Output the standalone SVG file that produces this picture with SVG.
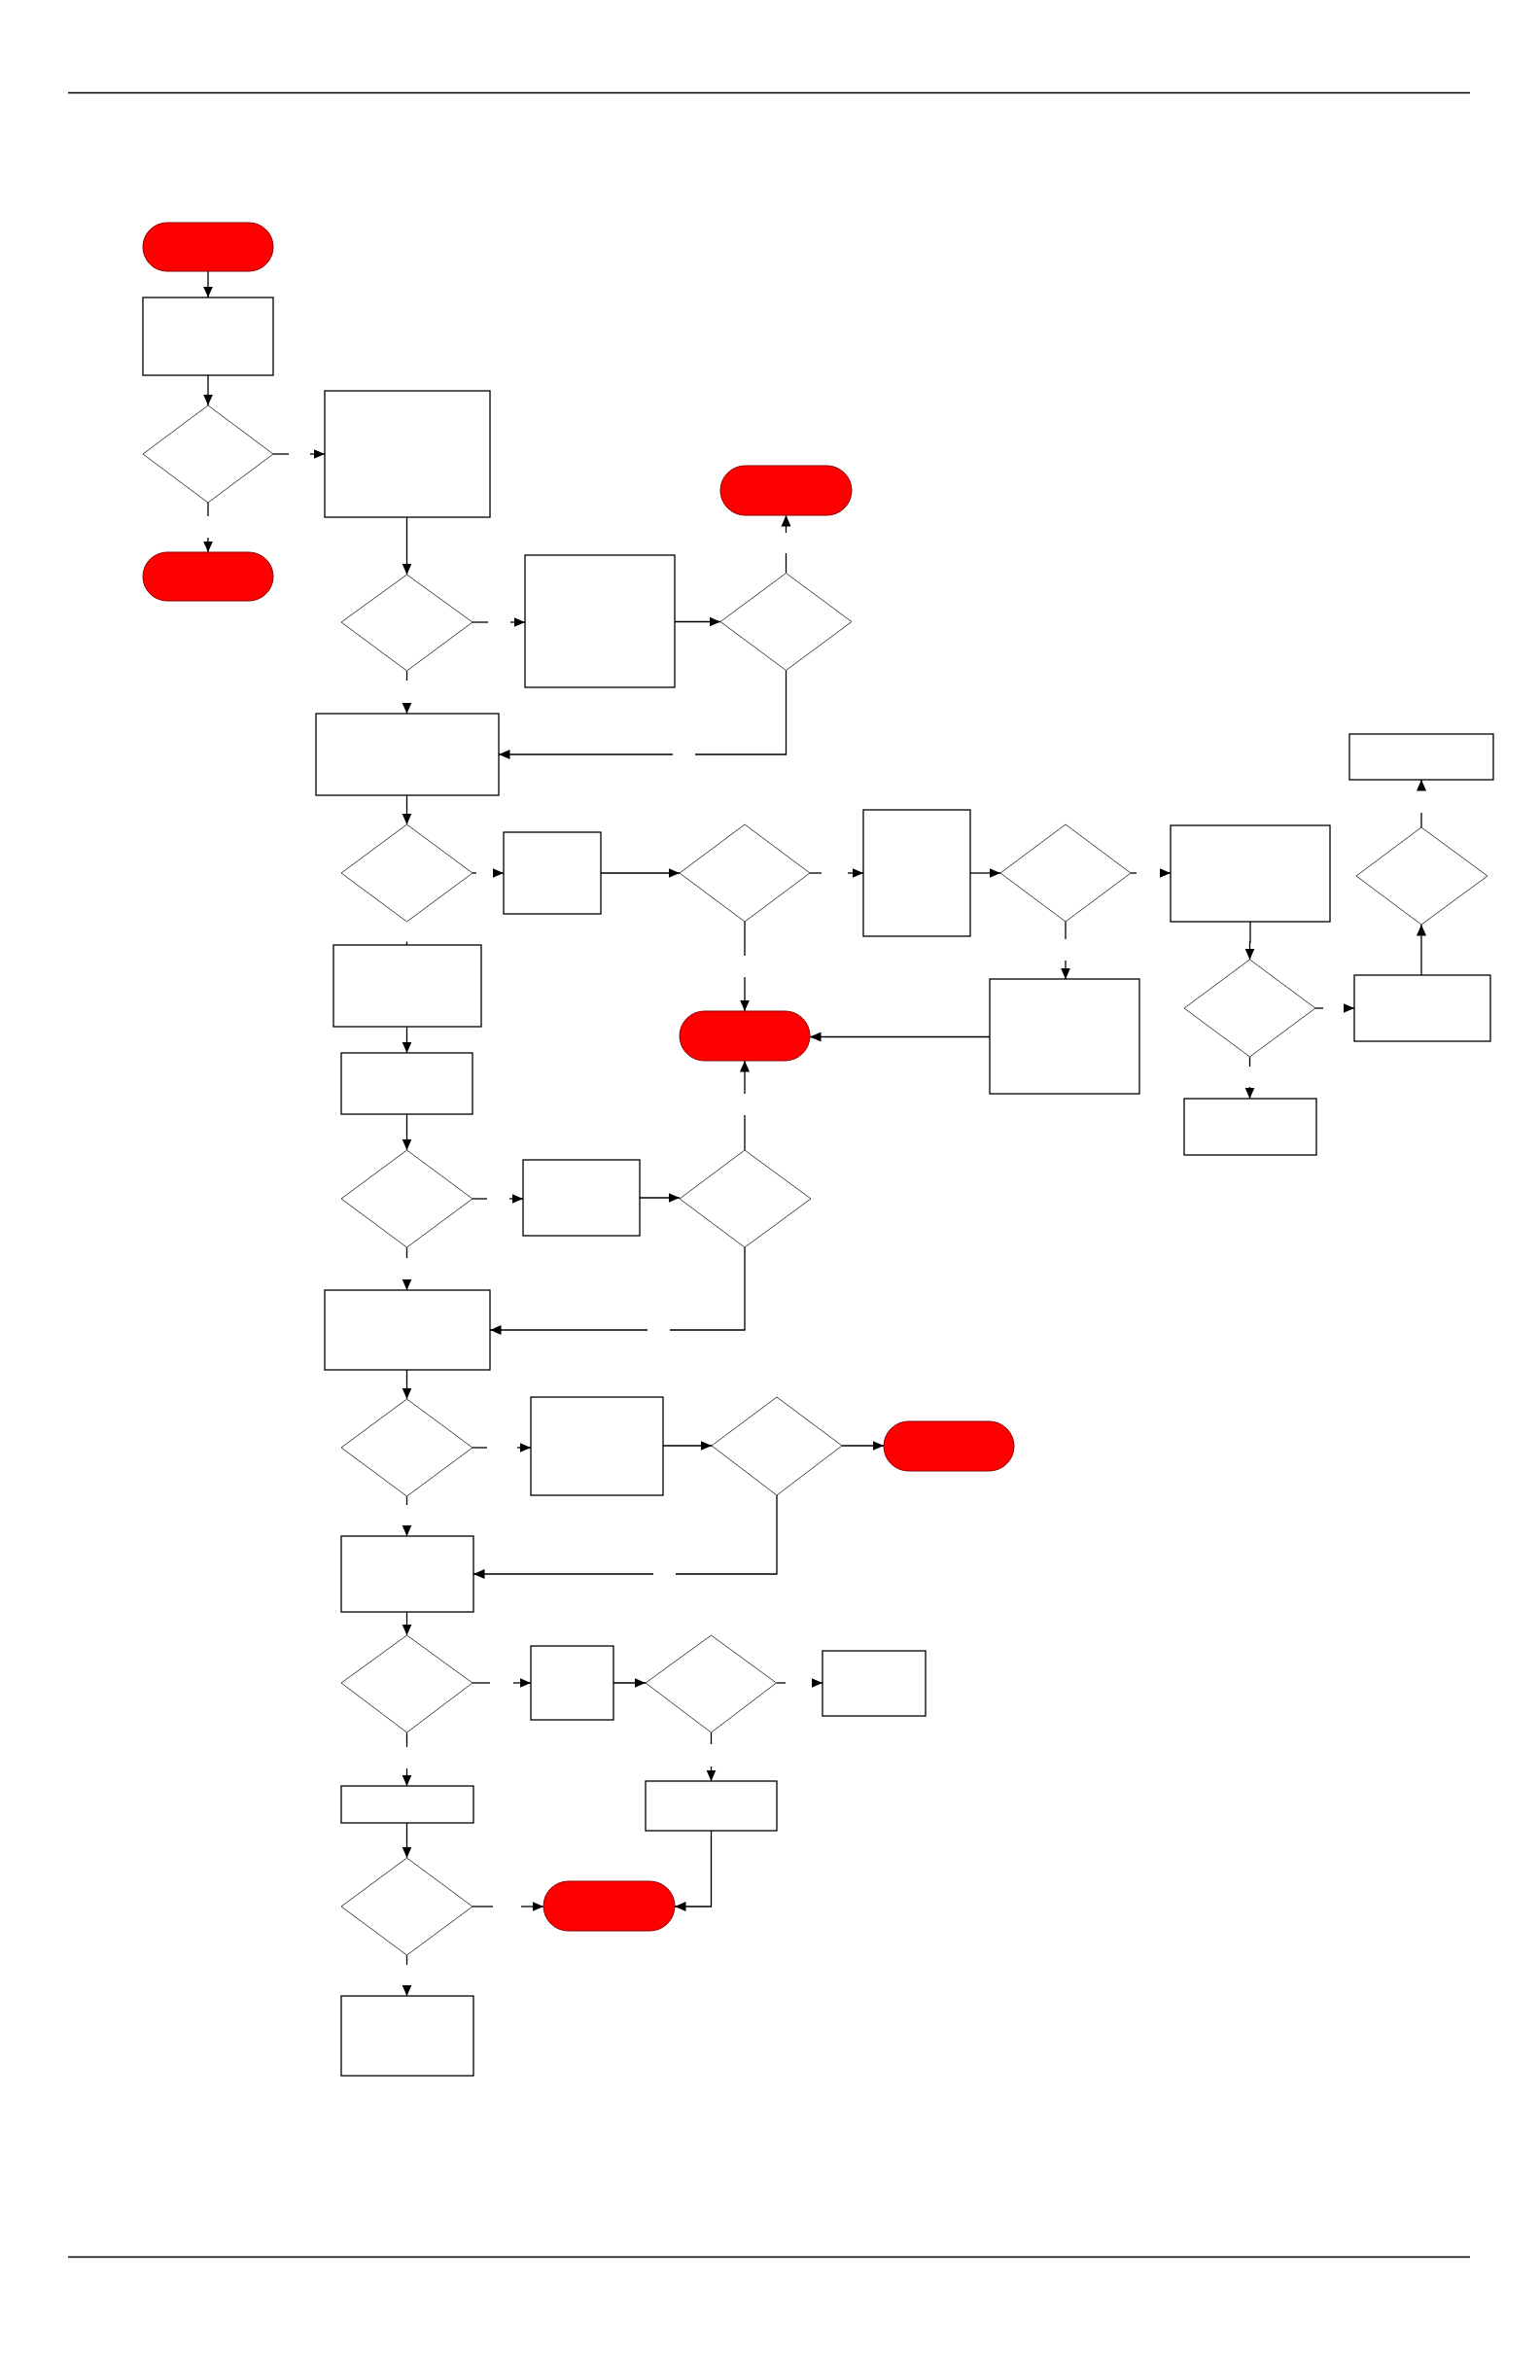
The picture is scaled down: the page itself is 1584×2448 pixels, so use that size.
<svg xmlns="http://www.w3.org/2000/svg" width="1584" height="2448" viewBox="0 0 1584 2448">
<style>
.bg{fill:#ffffff}
.rule{stroke:#000;stroke-width:1.4;fill:none}
.box{fill:#fff;stroke:#000;stroke-width:1.3}
.dia{fill:#fff;stroke:#444;stroke-width:1}
.term{fill:#ff0000;stroke:#8a0000;stroke-width:1}
.c{fill:none;stroke:#000;stroke-width:1.3}
.a{fill:none;stroke:#000;stroke-width:1.3;marker-end:url(#ah)}
</style>
<defs>
<marker id="ah" markerUnits="userSpaceOnUse" markerWidth="12" markerHeight="11" viewBox="0 0 12 11" refX="11.5" refY="5.5" orient="auto">
<path d="M0,0.5 L11.5,5.5 L0,10.5 z" fill="#000"/>
</marker>
</defs>
<rect class="bg" x="0" y="0" width="1584" height="2448"/>
<g id="page-rules">
<line class="rule" x1="70" y1="95.5" x2="1512" y2="95.5"/>
<line class="rule" x1="70" y1="2321.5" x2="1512" y2="2321.5"/>
</g>
<g id="connectors">
<line class="a" x1="214" y1="279" x2="214" y2="306"/>
<line class="a" x1="214" y1="386" x2="214" y2="417"/>
<line class="c" x1="281" y1="467" x2="297" y2="467"/>
<line class="a" x1="319" y1="467" x2="334" y2="467"/>
<line class="c" x1="214" y1="517" x2="214" y2="531"/>
<line class="a" x1="214" y1="553" x2="214" y2="568"/>
<line class="a" x1="418.5" y1="532" x2="418.5" y2="591"/>
<line class="c" x1="486" y1="640" x2="502" y2="640"/>
<line class="a" x1="525" y1="640" x2="540" y2="640"/>
<line class="a" x1="694" y1="639.5" x2="741" y2="639.5"/>
<line class="c" x1="808.5" y1="589.5" x2="808.5" y2="569"/>
<line class="a" x1="808.5" y1="548" x2="808.5" y2="530"/>
<polyline class="c" points="808.5,689.5 808.5,776 715,776"/>
<line class="a" x1="692" y1="776" x2="513" y2="776"/>
<line class="c" x1="418.5" y1="690" x2="418.5" y2="700"/>
<line class="a" x1="418.5" y1="724" x2="418.5" y2="734"/>
<line class="a" x1="418.5" y1="818" x2="418.5" y2="848"/>
<line class="c" x1="486" y1="898" x2="490" y2="898"/>
<line class="a" x1="510" y1="898" x2="518" y2="898"/>
<line class="a" x1="618" y1="898" x2="699" y2="898"/>
<line class="c" x1="833" y1="898" x2="845" y2="898"/>
<line class="a" x1="872" y1="898" x2="888" y2="898"/>
<line class="a" x1="998" y1="898" x2="1029" y2="898"/>
<line class="c" x1="1163" y1="898" x2="1169" y2="898"/>
<line class="a" x1="1195" y1="898" x2="1204" y2="898"/>
<line class="c" x1="1096" y1="948" x2="1096" y2="966"/>
<line class="a" x1="1096" y1="988" x2="1096" y2="1007"/>
<line class="a" x1="1018" y1="1066.5" x2="833" y2="1066.5"/>
<line class="c" x1="766" y1="948" x2="766" y2="983"/>
<line class="a" x1="766" y1="1005" x2="766" y2="1040"/>
<line class="c" x1="766" y1="1183" x2="766" y2="1147"/>
<line class="a" x1="766" y1="1125" x2="766" y2="1091"/>
<line class="c" x1="418.5" y1="968.5" x2="418.5" y2="972"/>
<line class="a" x1="418.5" y1="1056" x2="418.5" y2="1083"/>
<line class="a" x1="418.5" y1="1146" x2="418.5" y2="1183"/>
<line class="c" x1="486" y1="1233" x2="501" y2="1233"/>
<line class="a" x1="524" y1="1233" x2="538" y2="1233"/>
<line class="a" x1="658" y1="1232" x2="699" y2="1232"/>
<polyline class="c" points="766,1283 766,1368 689,1368"/>
<line class="a" x1="666" y1="1368" x2="504" y2="1368"/>
<line class="c" x1="418.5" y1="1283" x2="418.5" y2="1294"/>
<line class="a" x1="418.5" y1="1316" x2="418.5" y2="1327"/>
<line class="a" x1="418.5" y1="1409" x2="418.5" y2="1439"/>
<line class="c" x1="486" y1="1489" x2="501" y2="1489"/>
<line class="a" x1="532" y1="1489" x2="546" y2="1489"/>
<line class="a" x1="682" y1="1487" x2="732" y2="1487"/>
<line class="a" x1="866" y1="1487" x2="909" y2="1487"/>
<polyline class="c" points="799,1538 799,1619 695,1619"/>
<line class="a" x1="672" y1="1619" x2="487" y2="1619"/>
<line class="c" x1="418.5" y1="1539" x2="418.5" y2="1548"/>
<line class="a" x1="418.5" y1="1571" x2="418.5" y2="1580"/>
<line class="a" x1="418.5" y1="1658" x2="418.5" y2="1682"/>
<line class="c" x1="486" y1="1731" x2="504" y2="1731"/>
<line class="a" x1="528" y1="1731" x2="546" y2="1731"/>
<line class="a" x1="631" y1="1731" x2="664" y2="1731"/>
<line class="c" x1="798.5" y1="1731" x2="808" y2="1731"/>
<line class="a" x1="836" y1="1731" x2="846" y2="1731"/>
<line class="c" x1="731.5" y1="1782" x2="731.5" y2="1794"/>
<line class="a" x1="731.5" y1="1817" x2="731.5" y2="1832"/>
<polyline class="a" points="731.5,1883 731.5,1961 694,1961"/>
<line class="c" x1="418.5" y1="1782" x2="418.5" y2="1797"/>
<line class="a" x1="418.5" y1="1819" x2="418.5" y2="1837"/>
<line class="a" x1="418.5" y1="1875" x2="418.5" y2="1911"/>
<line class="c" x1="486" y1="1961" x2="507" y2="1961"/>
<line class="a" x1="536" y1="1961" x2="559" y2="1961"/>
<line class="c" x1="418.5" y1="2011" x2="418.5" y2="2021"/>
<line class="a" x1="418.5" y1="2043" x2="418.5" y2="2053"/>
<polyline class="a" points="1286,948 1286,969 1285.5,969 1285.5,987"/>
<line class="c" x1="1353" y1="1037" x2="1361" y2="1037"/>
<line class="a" x1="1384" y1="1037" x2="1393" y2="1037"/>
<line class="a" x1="1462" y1="1003" x2="1462" y2="951"/>
<line class="c" x1="1462" y1="851" x2="1462" y2="836"/>
<line class="a" x1="1462" y1="813" x2="1462" y2="802"/>
<line class="c" x1="1285.5" y1="1087" x2="1285.5" y2="1097"/>
<line class="a" x1="1285.5" y1="1118" x2="1285.5" y2="1130"/>
</g>
<g id="T1"><rect class="term" x="147" y="229" width="134" height="50" rx="25"/></g>
<g id="B1"><rect class="box" x="147" y="306" width="134" height="80"/></g>
<g id="D1"><polygon class="dia" points="214,417 281,467 214,517 147,467"/></g>
<g id="T2"><rect class="term" x="147" y="568" width="134" height="50" rx="25"/></g>
<g id="B2"><rect class="box" x="334" y="402" width="170" height="130"/></g>
<g id="D2"><polygon class="dia" points="418.5,591 486,640 418.5,690 351,640"/></g>
<g id="B3"><rect class="box" x="540" y="571" width="154" height="136"/></g>
<g id="D2b"><polygon class="dia" points="808.5,589.5 876,639.5 808.5,689.5 741,639.5"/></g>
<g id="T3"><rect class="term" x="741" y="479" width="135" height="51" rx="25.5"/></g>
<g id="B4"><rect class="box" x="325" y="734" width="188" height="84"/></g>
<g id="D3"><polygon class="dia" points="418.5,848 486,898 418.5,948 351,898"/></g>
<g id="B5"><rect class="box" x="518" y="856" width="100" height="84"/></g>
<g id="D4"><polygon class="dia" points="766,848 833,898 766,948 699,898"/></g>
<g id="B6"><rect class="box" x="888" y="833" width="110" height="130"/></g>
<g id="D5"><polygon class="dia" points="1096,848 1163,898 1096,948 1029,898"/></g>
<g id="B7"><rect class="box" x="1204" y="849" width="164" height="99"/></g>
<g id="D6"><polygon class="dia" points="1285.5,987 1353,1037 1285.5,1087 1218,1037"/></g>
<g id="B11"><rect class="box" x="1393" y="1003" width="140" height="68"/></g>
<g id="D7"><polygon class="dia" points="1462,851 1530,901 1462,951 1395,901"/></g>
<g id="B12"><rect class="box" x="1388" y="755" width="148" height="47"/></g>
<g id="B13"><rect class="box" x="1218" y="1130" width="136" height="58"/></g>
<g id="B8"><rect class="box" x="1018" y="1007" width="154" height="118"/></g>
<g id="T4"><rect class="term" x="699" y="1040" width="134" height="51" rx="25.5"/></g>
<g id="B9"><rect class="box" x="343" y="972" width="152" height="84"/></g>
<g id="B10"><rect class="box" x="351" y="1083" width="135" height="63"/></g>
<g id="D8"><polygon class="dia" points="418.5,1183 486,1233 418.5,1283 351,1233"/></g>
<g id="B14"><rect class="box" x="538" y="1193" width="120" height="78"/></g>
<g id="D9"><polygon class="dia" points="766,1183 834,1233 766,1283 699,1233"/></g>
<g id="B15"><rect class="box" x="334" y="1327" width="170" height="82"/></g>
<g id="D10"><polygon class="dia" points="418.5,1439 486,1489 418.5,1539 351,1489"/></g>
<g id="B16"><rect class="box" x="546" y="1437" width="136" height="101"/></g>
<g id="D11"><polygon class="dia" points="799,1437 866,1487 799,1538 732,1487"/></g>
<g id="T5"><rect class="term" x="909" y="1462" width="134" height="51" rx="25.5"/></g>
<g id="B17"><rect class="box" x="351" y="1580" width="136" height="78"/></g>
<g id="D12"><polygon class="dia" points="418.5,1682 486,1731 418.5,1782 351,1731"/></g>
<g id="B18"><rect class="box" x="546" y="1693" width="85" height="76"/></g>
<g id="D13"><polygon class="dia" points="731.5,1682 798.5,1731 731.5,1782 664,1731"/></g>
<g id="B19"><rect class="box" x="846" y="1698" width="106" height="67"/></g>
<g id="B20"><rect class="box" x="664" y="1832" width="135" height="51"/></g>
<g id="T6"><rect class="term" x="559" y="1935" width="135" height="51" rx="25.5"/></g>
<g id="B21"><rect class="box" x="351" y="1837" width="136" height="38"/></g>
<g id="D14"><polygon class="dia" points="418.5,1911 486,1961 418.5,2011 351,1961"/></g>
<g id="B22"><rect class="box" x="351" y="2053" width="136" height="82"/></g>
</svg>
